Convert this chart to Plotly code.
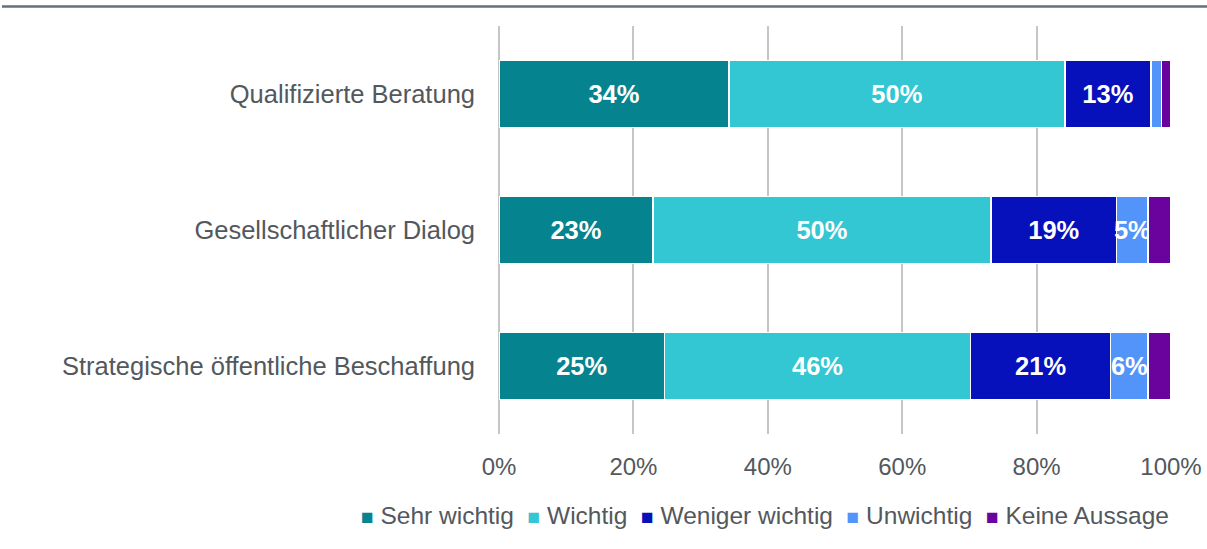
import plotly.graph_objects as go

categories = ["Qualifizierte Beratung", "Gesellschaftlicher Dialog", "Strategische öffentliche Beschaffung"]
series_names = ["Sehr wichtig", "Wichtig", "Weniger wichtig", "Unwichtig", "Keine Aussage"]
sehr_wichtig = [34.2, 22.9, 24.6]
wichtig = [50.0, 50.3, 45.6]
weniger_wichtig = [12.8, 18.7, 20.8]
unwichtig = [1.6, 4.7, 5.6]
keine_aussage = [1.4, 3.4, 3.4]
tick_vals = [0, 20, 40, 60, 80, 100]
tick_text = ["0%", "20%", "40%", "60%", "80%", "100%"]
colors = ["#058490", "#33c6d3", "#0610bb", "#5394fa", "#6a039e"]

all_values = [sehr_wichtig, wichtig, weniger_wichtig, unwichtig, keine_aussage]
FONT = "Liberation Sans, Arial, sans-serif"
GRAY = "#53585d"

W, H = 1207, 549
ML, MR, MT, MB = 499, 36, 26, 115
PW, PH = W - ML - MR, H - MT - MB

fig = go.Figure()
for name, vals, col in zip(series_names, all_values, colors):
    texts = [f"{v:.0f}%" if v >= 4 else "" for v in vals]
    fig.add_trace(go.Bar(
        y=categories, x=vals, name=name, orientation="h",
        marker=dict(color=col, line=dict(color="white", width=1.5)),
        text=texts, textposition="inside", insidetextanchor="middle",
        constraintext="none", textangle=0,
        textfont=dict(color="white", size=25.5, family=FONT, weight="bold"),
        hoverinfo="x+name",
    ))

legend_html = " &nbsp;".join(
    f"<span style='color:{c};font-size:21px'>■</span> {n}"
    for n, c in zip(series_names, colors)
)

fig.update_layout(
    barmode="stack",
    bargap=0.507,
    width=W, height=H,
    margin=dict(l=ML, r=MR, t=MT, b=MB, autoexpand=False),
    paper_bgcolor="white", plot_bgcolor="white",
    font=dict(family=FONT, size=24, color=GRAY),
    showlegend=False,
    xaxis=dict(range=[0, 100], tickvals=tick_vals, ticktext=tick_text,
               showgrid=True, gridcolor="#c6c6c6", gridwidth=2.2,
               zeroline=True, zerolinecolor="#c6c6c6", zerolinewidth=2.2,
               showline=False, automargin=False,
               tickfont=dict(size=24, color=GRAY), ticks="",
               ticklabelstandoff=16),
    yaxis=dict(autorange="reversed", showgrid=False, ticks="", automargin=False,
               ticklabelstandoff=23,
               tickfont=dict(size=25.5, color=GRAY)),
    annotations=[dict(
        text=legend_html, xref="paper", yref="paper",
        x=1.0, xanchor="right", y=-(515 - (MT + PH)) / PH, yanchor="middle",
        showarrow=False, font=dict(size=24.5, color=GRAY, family=FONT),
    )],
    shapes=[dict(type="line", xref="paper", yref="paper",
                 x0=-(ML - 2) / PW, x1=(W - ML) / PW,
                 y0=(H - MB - 6.5) / PH, y1=(H - MB - 6.5) / PH,
                 line=dict(color="#66707a", width=2.5))],
)

fig.write_html(
    "out.html",
    config={"displayModeBar": False},
    post_script="document.body.style.margin='0px';document.body.style.overflow='hidden';",
)
